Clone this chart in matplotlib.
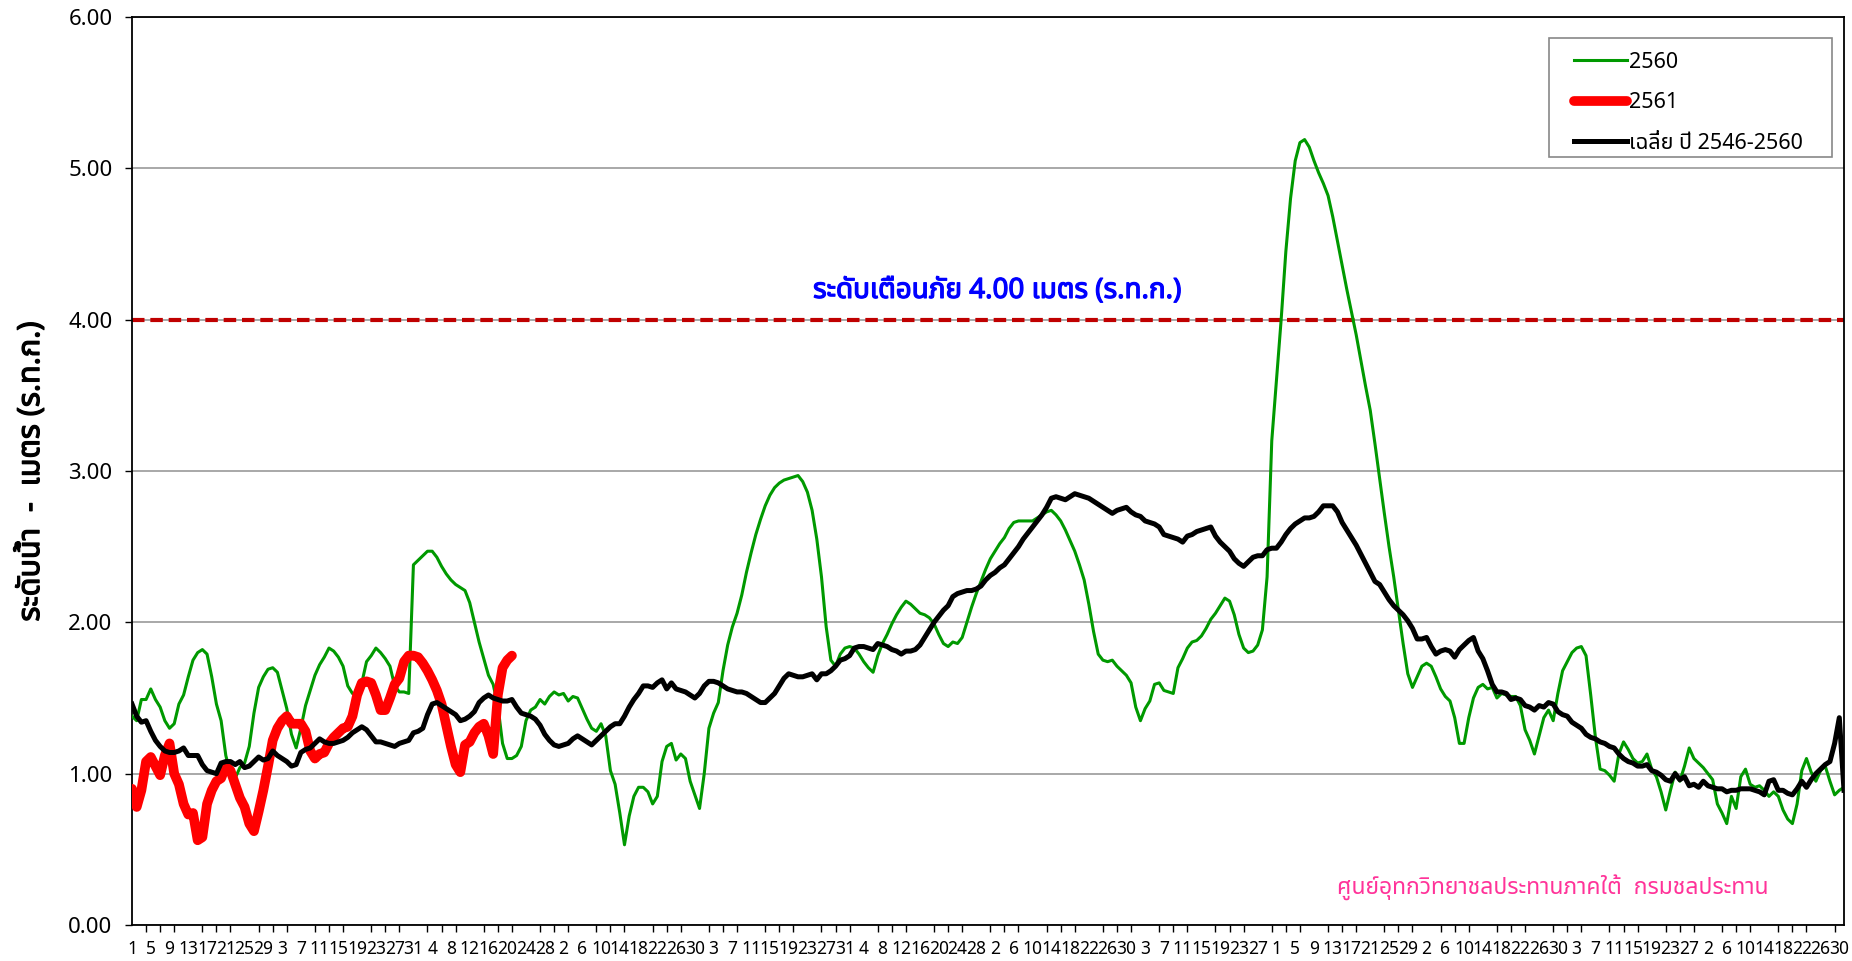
import numpy as np
import pandas as pd
import matplotlib
matplotlib.use("Agg")
import matplotlib.pyplot as plt
import matplotlib.patheffects as pe
from matplotlib.patches import Rectangle
from matplotlib import font_manager
from matplotlib.ft2font import FT2Font

# ---- data (water level, m above MSL), day index 0 = 1 April ----
dates = pd.date_range("2019-04-01", "2020-03-31", freq="D")

y2560 = [1.38, 1.35, 1.49, 1.49, 1.56, 1.49, 1.44, 1.35, 1.30, 1.33, 1.46, 1.52, 1.64, 1.75, 1.80, 1.82, 1.79, 1.64, 1.46, 1.35,
         1.12, 1.00, 0.97, 1.04, 1.07, 1.18, 1.40, 1.57, 1.64, 1.69, 1.70, 1.67, 1.55, 1.43, 1.26, 1.17, 1.30, 1.45, 1.55, 1.65,
         1.72, 1.77, 1.83, 1.81, 1.77, 1.71, 1.58, 1.53, 1.53, 1.60, 1.74, 1.78, 1.83, 1.80, 1.76, 1.71, 1.58, 1.54, 1.54, 1.53,
         2.38, 2.41, 2.44, 2.47, 2.47, 2.43, 2.37, 2.32, 2.28, 2.25, 2.23, 2.21, 2.13, 2.00, 1.87, 1.76, 1.65, 1.59, 1.45, 1.20,
         1.10, 1.10, 1.12, 1.18, 1.35, 1.42, 1.44, 1.49, 1.46, 1.51, 1.54, 1.52, 1.53, 1.48, 1.51, 1.50, 1.43, 1.36, 1.30, 1.28,
         1.33, 1.25, 1.02, 0.93, 0.74, 0.53, 0.72, 0.85, 0.91, 0.91, 0.88, 0.80, 0.85, 1.08, 1.18, 1.20, 1.09, 1.13, 1.10, 0.95,
         0.86, 0.77, 1.00, 1.30, 1.40, 1.47, 1.68, 1.85, 1.97, 2.06, 2.18, 2.33, 2.46, 2.58, 2.68, 2.77, 2.84, 2.89, 2.92, 2.94,
         2.95, 2.96, 2.97, 2.93, 2.86, 2.74, 2.55, 2.30, 1.97, 1.75, 1.71, 1.79, 1.83, 1.84, 1.83, 1.79, 1.74, 1.70, 1.67, 1.78,
         1.86, 1.92, 1.99, 2.05, 2.10, 2.14, 2.12, 2.09, 2.06, 2.05, 2.03, 1.99, 1.92, 1.86, 1.84, 1.87, 1.86, 1.90, 2.00, 2.10,
         2.19, 2.27, 2.35, 2.42, 2.47, 2.52, 2.56, 2.62, 2.66, 2.67, 2.67, 2.67, 2.67, 2.69, 2.71, 2.73, 2.74, 2.71, 2.67, 2.61,
         2.54, 2.47, 2.38, 2.28, 2.12, 1.94, 1.79, 1.75, 1.74, 1.75, 1.71, 1.68, 1.65, 1.60, 1.44, 1.35, 1.43, 1.48, 1.59, 1.60,
         1.55, 1.54, 1.53, 1.70, 1.76, 1.83, 1.87, 1.88, 1.91, 1.96, 2.02, 2.06, 2.11, 2.16, 2.14, 2.05, 1.92, 1.83, 1.80, 1.81,
         1.85, 1.95, 2.30, 3.20, 3.60, 4.00, 4.45, 4.80, 5.05, 5.17, 5.19, 5.14, 5.05, 4.97, 4.90, 4.82, 4.68, 4.52, 4.36, 4.20,
         4.05, 3.90, 3.73, 3.56, 3.40, 3.18, 2.95, 2.72, 2.50, 2.30, 2.08, 1.86, 1.66, 1.57, 1.64, 1.71, 1.73, 1.71, 1.64, 1.56,
         1.51, 1.48, 1.37, 1.20, 1.20, 1.37, 1.50, 1.57, 1.59, 1.56, 1.57, 1.50, 1.53, 1.52, 1.51, 1.51, 1.45, 1.29, 1.22, 1.13,
         1.25, 1.37, 1.42, 1.35, 1.53, 1.68, 1.74, 1.80, 1.83, 1.84, 1.78, 1.52, 1.24, 1.03, 1.02, 0.99, 0.95, 1.13, 1.21, 1.16,
         1.10, 1.07, 1.08, 1.13, 1.03, 0.98, 0.88, 0.76, 0.89, 1.01, 0.95, 1.05, 1.17, 1.10, 1.07, 1.04, 1.00, 0.96, 0.80, 0.74,
         0.67, 0.85, 0.77, 0.98, 1.03, 0.93, 0.91, 0.92, 0.89, 0.85, 0.88, 0.85, 0.76, 0.70, 0.67, 0.80, 1.02, 1.10, 1.01, 0.95,
         1.02, 1.05, 0.95, 0.86, 0.89, 0.91]

y2561 = [0.90, 0.78, 0.89, 1.08, 1.11, 1.05, 0.99, 1.12, 1.20, 1.00, 0.93, 0.80, 0.73, 0.74, 0.56, 0.58, 0.80, 0.89, 0.95, 0.97,
         1.05, 1.02, 0.93, 0.84, 0.78, 0.67, 0.62, 0.75, 0.89, 1.05, 1.22, 1.30, 1.35, 1.38, 1.33, 1.33, 1.33, 1.28, 1.15, 1.10,
         1.13, 1.14, 1.20, 1.24, 1.27, 1.30, 1.31, 1.38, 1.52, 1.60, 1.61, 1.60, 1.52, 1.42, 1.42, 1.50, 1.59, 1.63, 1.74, 1.78,
         1.78, 1.77, 1.73, 1.68, 1.62, 1.55, 1.46, 1.32, 1.18, 1.06, 1.01, 1.19, 1.21, 1.27, 1.31, 1.33, 1.25, 1.13, 1.52, 1.70,
         1.75, 1.78]

y_avg = [1.46, 1.38, 1.34, 1.35, 1.28, 1.22, 1.18, 1.15, 1.14, 1.14, 1.15, 1.17, 1.12, 1.12, 1.12, 1.06, 1.02, 1.01, 1.00, 1.07,
         1.08, 1.08, 1.06, 1.08, 1.04, 1.05, 1.08, 1.11, 1.09, 1.10, 1.15, 1.12, 1.10, 1.08, 1.05, 1.06, 1.14, 1.16, 1.17, 1.20,
         1.23, 1.21, 1.20, 1.20, 1.21, 1.22, 1.24, 1.27, 1.29, 1.31, 1.29, 1.25, 1.21, 1.21, 1.20, 1.19, 1.18, 1.20, 1.21, 1.22,
         1.27, 1.28, 1.30, 1.39, 1.46, 1.47, 1.45, 1.43, 1.41, 1.39, 1.35, 1.36, 1.38, 1.41, 1.47, 1.50, 1.52, 1.50, 1.49, 1.48,
         1.48, 1.49, 1.44, 1.40, 1.39, 1.38, 1.36, 1.32, 1.26, 1.22, 1.19, 1.18, 1.19, 1.20, 1.23, 1.25, 1.23, 1.21, 1.19, 1.22,
         1.25, 1.28, 1.31, 1.33, 1.33, 1.38, 1.44, 1.49, 1.53, 1.58, 1.58, 1.57, 1.60, 1.62, 1.56, 1.60, 1.56, 1.55, 1.54, 1.52,
         1.50, 1.53, 1.58, 1.61, 1.61, 1.60, 1.58, 1.56, 1.55, 1.54, 1.54, 1.53, 1.51, 1.49, 1.47, 1.47, 1.50, 1.53, 1.58, 1.63,
         1.66, 1.65, 1.64, 1.64, 1.65, 1.66, 1.62, 1.66, 1.66, 1.68, 1.71, 1.75, 1.76, 1.78, 1.83, 1.84, 1.84, 1.83, 1.82, 1.86,
         1.85, 1.84, 1.82, 1.81, 1.79, 1.81, 1.81, 1.82, 1.85, 1.90, 1.95, 2.00, 2.04, 2.08, 2.11, 2.17, 2.19, 2.20, 2.21, 2.21,
         2.22, 2.24, 2.28, 2.31, 2.33, 2.36, 2.38, 2.42, 2.46, 2.50, 2.55, 2.59, 2.63, 2.67, 2.71, 2.76, 2.82, 2.83, 2.82, 2.81,
         2.83, 2.85, 2.84, 2.83, 2.82, 2.80, 2.78, 2.76, 2.74, 2.72, 2.74, 2.75, 2.76, 2.73, 2.71, 2.70, 2.67, 2.66, 2.65, 2.63,
         2.58, 2.57, 2.56, 2.55, 2.53, 2.57, 2.58, 2.60, 2.61, 2.62, 2.63, 2.57, 2.53, 2.50, 2.47, 2.42, 2.39, 2.37, 2.40, 2.43,
         2.44, 2.44, 2.48, 2.49, 2.49, 2.53, 2.58, 2.62, 2.65, 2.67, 2.69, 2.69, 2.70, 2.73, 2.77, 2.77, 2.77, 2.73, 2.66, 2.61,
         2.56, 2.51, 2.45, 2.39, 2.33, 2.27, 2.25, 2.20, 2.15, 2.11, 2.08, 2.05, 2.01, 1.96, 1.89, 1.89, 1.90, 1.84, 1.79, 1.81,
         1.82, 1.81, 1.77, 1.82, 1.85, 1.88, 1.90, 1.81, 1.76, 1.68, 1.59, 1.54, 1.54, 1.53, 1.49, 1.50, 1.49, 1.45, 1.44, 1.42,
         1.45, 1.44, 1.47, 1.46, 1.41, 1.39, 1.38, 1.34, 1.32, 1.30, 1.26, 1.24, 1.23, 1.21, 1.20, 1.18, 1.17, 1.13, 1.10, 1.08,
         1.07, 1.05, 1.05, 1.06, 1.02, 1.01, 0.99, 0.96, 0.95, 1.00, 0.96, 0.98, 0.92, 0.93, 0.91, 0.95, 0.92, 0.91, 0.90, 0.90,
         0.88, 0.89, 0.89, 0.90, 0.90, 0.90, 0.89, 0.88, 0.86, 0.95, 0.96, 0.89, 0.89, 0.87, 0.86, 0.90, 0.95, 0.91, 0.96, 1.00,
         1.03, 1.06, 1.08, 1.20, 1.37, 0.89]

warning_level = 4.00
series_names = ["2560", "2561", "เฉลี่ย ปี 2546-2560"]


def thai_font():
    prefer = ["Tahoma", "Noto Sans Thai", "Noto Sans Thai UI", "Loma", "Garuda", "Sarabun",
              "Norasi", "Kinnari", "Waree", "Umpush", "Laksaman"]
    found = []
    for f in font_manager.fontManager.ttflist:
        try:
            if FT2Font(f.fname).get_char_index(ord("ร")):
                found.append(f.name)
        except Exception:
            pass
    for p in prefer:
        if p in found:
            return p
    return found[0] if found else None


tf = thai_font()
plt.rcParams["font.family"] = ([tf] if tf else []) + ["DejaVu Sans"]

W, H = 1852, 961
fig = plt.figure(figsize=(W / 100, H / 100), dpi=100)
ax = fig.add_axes([132 / W, 1 - 925 / H, (1844 - 132) / W, (925 - 17) / H])

x = np.arange(len(dates))
ax.plot(x[:len(y2560)], y2560, color="#009900", lw=2.2, label=series_names[0], zorder=3)
ax.plot(x[:len(y2561)], y2561, color="#FF0000", lw=7, label=series_names[1], zorder=4,
        solid_capstyle="round", solid_joinstyle="round")
ax.plot(x[:len(y_avg)], y_avg, color="black", lw=3.6, label=series_names[2], zorder=5)
ax.axhline(warning_level, color="#C00000", lw=3, dashes=(3, 1.4), zorder=2)

ax.set_xlim(0, len(dates) - 1)
ax.set_ylim(0, 6)
ax.set_yticks(np.arange(0, 7, 1))
ax.set_yticklabels([f"{v:.2f}" for v in np.arange(0, 7, 1)], fontsize=16)
ax.yaxis.grid(True, color="#999999", lw=1.2)
ax.set_axisbelow(True)

ax.set_xticks(x[::4])
ax.set_xticklabels([str(d.day) for d in dates[::4]], fontsize=12.5)
ax.set_xticks(x[::3], minor=True)
ax.tick_params(axis="x", which="major", length=0, pad=11)
ax.tick_params(axis="x", which="minor", length=5, width=1, direction="out")
ax.tick_params(axis="y", length=5, width=1, direction="out", pad=9)
for s in ax.spines.values():
    s.set_linewidth(1.3)
    s.set_color("black")

bold = [pe.withStroke(linewidth=0.9, foreground="black")]
ax.set_ylabel("ระดับน้ำ  -  เมตร (ร.ท.ก.)", fontsize=22, labelpad=16, path_effects=bold)

ax.text(184.5, 4.19, "ระดับเตือนภัย 4.00 เมตร (ร.ท.ก.)", color="#0000FF", fontsize=20,
        ha="center", va="center", path_effects=[pe.withStroke(linewidth=0.9, foreground="#0000FF")])
ax.text(303, 0.245, "ศูนย์อุทกวิทยาชลประทานภาคใต้  กรมชลประทาน", color="#FF3399", fontsize=16.5,
        ha="center", va="center")

# legend box drawn by hand so its padding matches the original
ax.add_patch(Rectangle((1549 / W, 1 - 157 / H), (1832 - 1549) / W, (157 - 38) / H,
                       transform=fig.transFigure, facecolor="white", edgecolor="#888888",
                       lw=1.2, zorder=6, clip_on=False))
leg = ax.legend(loc="upper left", bbox_to_anchor=((1574 - 132) / 1712, 1 - (52 - 17) / 908),
                fontsize=15.5, frameon=False, handlelength=2.45, handletextpad=0.12,
                borderpad=0, labelspacing=0.9, borderaxespad=0)
leg.set_zorder(7)

fig.savefig("out.png", dpi=100, facecolor="white")
